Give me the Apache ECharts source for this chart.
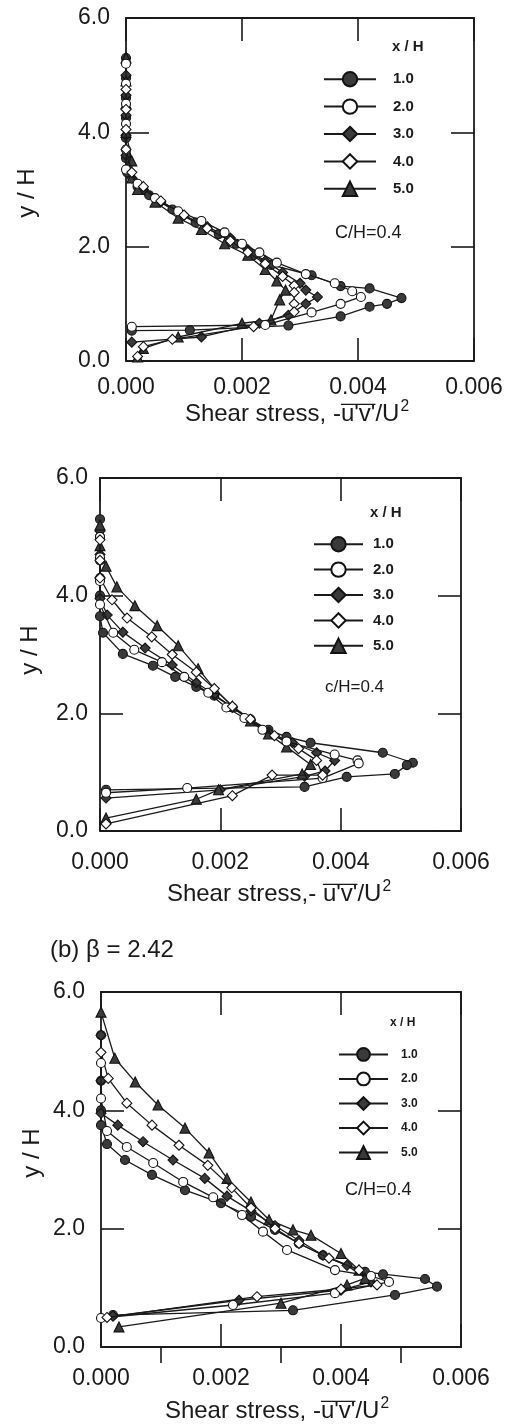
<!DOCTYPE html>
<html><head><meta charset="utf-8">
<script src="https://cdn.jsdelivr.net/npm/echarts@6/dist/echarts.min.js"></script>
<style>html,body{margin:0;padding:0;background:#fff}#c{width:515px;height:1427px}</style>
</head><body><div id="c"></div>
<script>
// ---------------- data ----------------
const seriesNames = ['1.0', '2.0', '3.0', '4.0', '5.0'];
const xTickValues = [0, 0.002, 0.004, 0.006];
const yTickValues = [0, 2, 4, 6];
const minorXTicks = [0.001, 0.003, 0.005];

// panel 1 (top)
const p1_s1 = [[0,5.3],[0,4.95],[0,4.6],[0,4.25],[0,3.9],[0,3.55],[0.00002,3.3],[0.0002,3.05],[0.0004,2.9],[0.0008,2.65],[0.0012,2.42],[0.0016,2.22],[0.0019,2.05],[0.0022,1.85],[0.0025,1.68],[0.0032,1.5],[0.0037,1.31],[0.0042,1.27],[0.00475,1.1],[0.0045,1.0],[0.0042,0.95],[0.0037,0.78],[0.0028,0.62],[0.0011,0.54],[0.0001,0.53]];
const p1_s2 = [[0,5.2],[0,4.85],[0,4.5],[0,4.15],[0,3.7],[0,3.35],[0.0002,3.1],[0.0005,2.85],[0.0009,2.62],[0.0013,2.45],[0.0017,2.25],[0.002,2.05],[0.0023,1.9],[0.0026,1.72],[0.0031,1.52],[0.0036,1.36],[0.0039,1.22],[0.00405,1.12],[0.0037,1.0],[0.0032,0.85],[0.0024,0.63],[0.0001,0.6]];
const p1_s3 = [[0,5.0],[0,4.65],[0,4.3],[0,3.95],[0,3.6],[0.0001,3.2],[0.0003,3.0],[0.0006,2.78],[0.001,2.55],[0.0014,2.35],[0.0018,2.15],[0.0021,1.95],[0.0024,1.75],[0.0027,1.55],[0.003,1.36],[0.0031,1.24],[0.0033,1.12],[0.0031,1.0],[0.0028,0.8],[0.0023,0.66],[0.0013,0.42],[0.0001,0.33]];
const p1_s4 = [[0,4.75],[0,4.4],[0,4.05],[0,3.7],[0.0001,3.3],[0.0003,3.05],[0.0006,2.8],[0.001,2.55],[0.0014,2.32],[0.0018,2.1],[0.0021,1.9],[0.0024,1.7],[0.0027,1.48],[0.0029,1.32],[0.0029,1.2],[0.0029,1.0],[0.0029,0.86],[0.0022,0.6],[0.0008,0.38],[0.0003,0.25],[0.0002,0.08]];
const p1_s5 = [[0,5.3],[0,4.9],[0,4.5],[0,4.0],[0.0001,3.5],[0.0001,3.2],[0.0002,3.0],[0.0005,2.78],[0.0009,2.5],[0.0013,2.3],[0.0017,2.05],[0.0021,1.85],[0.0024,1.6],[0.0026,1.4],[0.00275,1.24],[0.00265,1.07],[0.0025,0.72],[0.002,0.66],[0.0009,0.42],[0.0003,0.22],[0.0002,0.07]];

// panel 2 (middle)
const p2_s1 = [[0,5.3],[0,5.0],[0,4.6],[0,4.3],[0,4.0],[0,3.65],[0.00005,3.37],[0.00038,3.01],[0.00088,2.81],[0.00125,2.62],[0.0016,2.45],[0.0019,2.3],[0.0022,2.1],[0.0025,1.9],[0.0028,1.72],[0.0031,1.6],[0.0035,1.5],[0.0047,1.33],[0.0052,1.16],[0.0051,1.12],[0.0049,0.97],[0.0041,0.92],[0.0034,0.75],[0.0001,0.7]];
const p2_s2 = [[0,5.0],[0,4.65],[0,4.25],[0,3.85],[0.00022,3.37],[0.00057,3.08],[0.00103,2.87],[0.0014,2.62],[0.0018,2.35],[0.0021,2.1],[0.0024,1.92],[0.0027,1.72],[0.0031,1.52],[0.0039,1.3],[0.00428,1.2],[0.0043,1.15],[0.0037,0.9],[0.00145,0.73],[0.0001,0.65]];
const p2_s3 = [[0,5.1],[0,4.7],[0,4.3],[0,3.95],[0.00012,3.67],[0.00038,3.38],[0.00075,3.11],[0.0012,2.82],[0.0016,2.52],[0.0019,2.32],[0.0022,2.1],[0.0025,1.88],[0.0028,1.68],[0.0032,1.5],[0.0036,1.33],[0.0039,1.2],[0.00374,1.02],[0.0034,0.93],[0.002,0.7],[0.0001,0.56]];
const p2_s4 = [[0,4.95],[0,4.6],[0,4.3],[0.0002,3.93],[0.00045,3.62],[0.00086,3.3],[0.0012,3.0],[0.0016,2.7],[0.0019,2.42],[0.0022,2.12],[0.0025,1.9],[0.0029,1.62],[0.0033,1.4],[0.0036,1.2],[0.0037,0.95],[0.00286,0.95],[0.0022,0.6],[0.0001,0.12]];
const p2_s5 = [[0,5.2],[0,4.85],[0.0001,4.5],[0.00028,4.15],[0.00058,3.83],[0.00095,3.49],[0.0013,3.15],[0.00163,2.76],[0.0019,2.42],[0.0022,2.12],[0.0025,1.87],[0.0028,1.65],[0.0031,1.43],[0.0035,1.13],[0.00336,0.97],[0.00197,0.7],[0.0016,0.54],[0.0001,0.22]];

// panel 3 (bottom, beta = 2.42)
const p3_s1 = [[0,5.27],[0,4.5],[0,4.0],[0,3.75],[0.0001,3.43],[0.0004,3.16],[0.00085,2.91],[0.0014,2.65],[0.002,2.43],[0.0025,2.2],[0.0029,1.98],[0.0033,1.75],[0.0037,1.55],[0.0044,1.27],[0.0047,1.23],[0.0054,1.15],[0.0056,1.02],[0.0049,0.88],[0.0032,0.62],[0.0002,0.54]];
const p3_s2 = [[0,4.8],[0,4.2],[0.0001,3.65],[0.00043,3.38],[0.00087,3.11],[0.00137,2.79],[0.00187,2.53],[0.00235,2.23],[0.0027,1.95],[0.0031,1.64],[0.0039,1.3],[0.0045,1.2],[0.0048,1.1],[0.0039,0.91],[0.0022,0.71],[0,0.49]];
const p3_s3 = [[0,5.27],[0,4.5],[0,3.95],[0.00028,3.75],[0.0007,3.47],[0.0012,3.16],[0.00173,2.85],[0.0021,2.55],[0.0025,2.3],[0.0029,2.05],[0.0033,1.8],[0.0037,1.55],[0.0041,1.38],[0.0045,1.1],[0.004,0.96],[0.0023,0.79],[0.0002,0.52]];
const p3_s4 = [[0,4.98],[0.00012,4.54],[0.00043,4.12],[0.00085,3.75],[0.0013,3.41],[0.00178,3.07],[0.00218,2.69],[0.0025,2.35],[0.0029,2.0],[0.0033,1.75],[0.0038,1.5],[0.0043,1.3],[0.0046,1.05],[0.004,0.98],[0.0026,0.85],[0.0001,0.5]];
const p3_s5 = [[0,5.66],[0.00023,4.88],[0.00057,4.48],[0.00095,4.09],[0.0014,3.7],[0.0018,3.28],[0.0021,2.85],[0.0025,2.45],[0.0028,2.15],[0.0032,1.98],[0.0035,1.89],[0.004,1.58],[0.0043,1.3],[0.0044,1.16],[0.0041,1.05],[0.003,0.74],[0.0003,0.34]];

const panelData = [
  [p1_s1, p1_s2, p1_s3, p1_s4, p1_s5],
  [p2_s1, p2_s2, p2_s3, p2_s4, p2_s5],
  [p3_s1, p3_s2, p3_s3, p3_s4, p3_s5]
];
const xTitlePrefix = ['Shear stress, -', 'Shear stress,- ', 'Shear stress, -'];
const ratioText = ['C/H=0.4', 'c/H=0.4', 'C/H=0.4'];
const legendTitle = 'x / H';
const yTitle = 'y / H';
const caption = '(b) \u03b2 = 2.42';

// ---------------- fonts ----------------
function hasFont(f) {
  const c = document.createElement('canvas').getContext('2d');
  const s = 'mmmmmmmmmmlli0123456789WWW';
  c.font = '40px monospace';
  const a = c.measureText(s).width;
  c.font = "40px '" + f + "', monospace";
  const b = c.measureText(s).width;
  return Math.abs(a - b) > 0.5;
}
const NARROW = hasFont('Liberation Sans Narrow');
const FAM = NARROW ? "'Liberation Sans Narrow', 'Liberation Sans', Arial, sans-serif" : "'Liberation Sans', Arial, sans-serif";
const K = NARROW ? 1.2 : 1.0;
const INK = '#1a1a1a';

// ---------------- layout ----------------
const grids = [
  { left: 126, top: 18, width: 348, height: 343 },
  { left: 100, top: 478, width: 361, height: 353 },
  { left: 101, top: 992, width: 360, height: 355 }
];
const yLabelMargin = [16, 12, 16];
const xLabelMargin = [15, 20, 20];
const legendPos = [
  { left: 323, top: 71, itemWidth: 52, itemHeight: 18, itemGap: 11, fs: 15, pad: 12 },
  { left: 313, top: 536, itemWidth: 49, itemHeight: 18, itemGap: 9, fs: 15, pad: 5 },
  { left: 338, top: 1047, itemWidth: 49, itemHeight: 16, itemGap: 9.75, fs: 12, pad: 8 }
];
const legendTitlePos = [[392, 47, 15], [370, 513, 15], [390, 1023, 12]];
const ratioPos = [[335, 233, 18], [325, 687, 17], [345, 1190, 18]];
const xTitlePos = [[297, 414], [279, 894], [277, 1411]];
const yTitlePos = [[27, 193], [30, 650], [32, 1153]];

const symbols = ['circle', 'circle', 'diamond', 'diamond', 'triangle'];
const filled = [true, false, true, false, true];
const symSizes = [9, 9, 10, 10, 10];

const xAxes = [], yAxes = [], series = [], legends = [], graphics = [];
const tickLen = 23;
const axisLineStyle = { color: INK, width: 1.8 };

grids.forEach((g, p) => {
  const xi = xAxes.length;
  xAxes.push({
    type: 'value', gridIndex: p, position: 'bottom', min: 0, max: 0.006, interval: 0.002,
    axisLine: { show: true, onZero: false, lineStyle: axisLineStyle },
    axisTick: { show: true, inside: true, length: tickLen, lineStyle: { color: INK, width: 1.6 } },
    axisLabel: { show: true, margin: xLabelMargin[p], fontSize: 23 * K, fontFamily: FAM, color: INK,
      formatter: v => v.toFixed(3) },
    splitLine: { show: false }
  });
  xAxes.push({
    type: 'value', gridIndex: p, position: 'top', min: 0, max: 0.006, interval: 0.002,
    axisLine: { show: true, onZero: false, lineStyle: axisLineStyle },
    axisTick: { show: true, inside: true, length: tickLen, lineStyle: { color: INK, width: 1.6 } },
    axisLabel: { show: false }, splitLine: { show: false }
  });
  if (p === 2) {
    xAxes.push({
      type: 'value', gridIndex: p, position: 'bottom', min: 0, max: 0.006, interval: 0.001,
      axisLine: { show: false, onZero: false },
      axisTick: { show: true, inside: false, length: 16, customValues: minorXTicks, lineStyle: { color: INK, width: 1.6 } },
      axisLabel: { show: false }, splitLine: { show: false }
    });
  }
  const yi = yAxes.length;
  yAxes.push({
    type: 'value', gridIndex: p, position: 'left', min: 0, max: 6, interval: 2,
    axisLine: { show: true, onZero: false, lineStyle: axisLineStyle },
    axisTick: { show: true, inside: true, length: tickLen, lineStyle: { color: INK, width: 1.6 } },
    axisLabel: { show: true, margin: yLabelMargin[p], fontSize: 23 * K, fontFamily: FAM, color: INK,
      formatter: v => v.toFixed(1) },
    splitLine: { show: false }
  });
  yAxes.push({
    type: 'value', gridIndex: p, position: 'right', min: 0, max: 6, interval: 2,
    axisLine: { show: true, onZero: false, lineStyle: axisLineStyle },
    axisTick: { show: true, inside: true, length: tickLen, lineStyle: { color: INK, width: 1.6 } },
    axisLabel: { show: false }, splitLine: { show: false }
  });

  panelData[p].forEach((d, i) => {
    series.push({
      type: 'line', name: seriesNames[i], xAxisIndex: xi, yAxisIndex: yi, data: d,
      symbol: symbols[i], symbolSize: symSizes[i], showSymbol: true, showAllSymbol: true,
      clip: false, animation: false, silent: true,
      lineStyle: { color: INK, width: 1.3 },
      itemStyle: { color: filled[i] ? '#3a3a3a' : '#ffffff', borderColor: '#121212', borderWidth: 1.1 },
      emphasis: { disabled: true },
      z: filled[i] ? 3 : 4
    });
  });

  const lp = legendPos[p];
  legends.push({
    orient: 'vertical', left: lp.left, top: lp.top, padding: 0,
    itemWidth: lp.itemWidth, itemHeight: lp.itemHeight, itemGap: lp.itemGap,
    selectedMode: false, data: seriesNames,
    textStyle: { fontSize: lp.fs * K, fontWeight: 'bold', fontFamily: FAM, color: INK, padding: [0, 0, 0, lp.pad] }
  });

  graphics.push({ type: 'text', x: legendTitlePos[p][0], y: legendTitlePos[p][1],
    style: { text: legendTitle, fontSize: legendTitlePos[p][2] * K, fontWeight: 'bold', fontFamily: FAM, fill: INK, align: 'left', verticalAlign: 'middle' } });
  graphics.push({ type: 'text', x: ratioPos[p][0], y: ratioPos[p][1],
    style: { text: ratioText[p], fontSize: ratioPos[p][2] * K, fontFamily: FAM, fill: INK, align: 'left', verticalAlign: 'middle' } });

  graphics.push({ type: 'text', x: yTitlePos[p][0], y: yTitlePos[p][1], rotation: Math.PI / 2,
    style: { text: yTitle, fontSize: 24 * K, fontFamily: FAM, fill: INK, align: 'center', verticalAlign: 'middle' } });

  const fs = 24 * K;
  const ctx = document.createElement('canvas').getContext('2d');
  ctx.font = fs + 'px ' + FAM;
  const w0 = ctx.measureText(xTitlePrefix[p]).width;
  const w1 = ctx.measureText("u'v'").width;
  const w2 = ctx.measureText('/U').width;
  ctx.font = (fs * 0.65) + 'px ' + FAM;
  const w3 = ctx.measureText('2').width;
  const total = w0 + w1 + w2 + w3 + 1;
  const cx = xTitlePos[p][0], cy = xTitlePos[p][1];
  let x = cx - total / 2;
  const base = { fontSize: fs, fontFamily: FAM, fill: INK, align: 'left', verticalAlign: 'middle' };
  graphics.push({ type: 'text', x: x, y: cy, style: Object.assign({ text: xTitlePrefix[p] }, base) });
  x += w0;
  graphics.push({ type: 'text', x: x, y: cy, style: Object.assign({ text: "u'v'" }, base) });
  graphics.push({ type: 'line', shape: { x1: x, y1: cy - fs * 0.4, x2: x + w1, y2: cy - fs * 0.4 },
    style: { stroke: INK, lineWidth: 1.4 } });
  x += w1;
  graphics.push({ type: 'text', x: x, y: cy, style: Object.assign({ text: '/U' }, base) });
  x += w2 + 1;
  graphics.push({ type: 'text', x: x, y: cy - fs * 0.3, style: Object.assign({}, base, { text: '2', fontSize: fs * 0.65 }) });
});

graphics.push({ type: 'text', x: 50, y: 950,
  style: { text: caption, fontSize: 24 * K, fontFamily: FAM, fill: INK, align: 'left', verticalAlign: 'middle' } });

const chart = echarts.init(document.getElementById('c'), null, { renderer: 'canvas' });
chart.setOption({
  animation: false,
  backgroundColor: '#ffffff',
  grid: grids.map(g => Object.assign({ containLabel: false }, g)),
  xAxis: xAxes,
  yAxis: yAxes,
  legend: legends,
  series: series,
  graphic: { elements: graphics }
});
</script>
</body></html>
